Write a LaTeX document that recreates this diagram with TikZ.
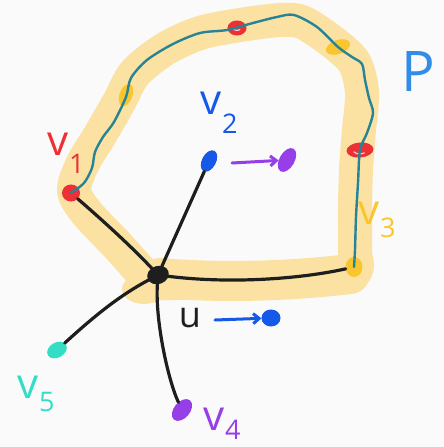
\documentclass[tikz,border=0pt]{standalone}
\usepackage{fontspec}
\setmainfont{Open Sans}
\usetikzlibrary{shapes.geometric,arrows.meta}
\definecolor{bgc}{RGB}{250,250,250}
\definecolor{hl}{RGB}{251,226,162}
\definecolor{pathc}{RGB}{38,132,150}
\definecolor{redc}{RGB}{236,48,52}
\definecolor{yelc}{RGB}{250,198,48}
\definecolor{bluec}{RGB}{22,88,232}
\definecolor{purc}{RGB}{150,62,232}
\definecolor{tealc}{RGB}{52,222,196}
\definecolor{pc}{RGB}{50,140,232}
\definecolor{inkc}{RGB}{30,30,30}
\newcommand{\vlab}[2]{v\kern0.5pt\raisebox{#2}{\fontsize{27}{27}\selectfont #1}}
\tikzset{
  dot/.style={ellipse, inner sep=0pt, fill=#1, draw=#1, line width=1pt},
  edge/.style={draw=inkc, line width=3.2pt, line cap=round},
  lbl/.style={inner sep=0pt, font=\fontsize{42}{42}\selectfont},
  band/.style={draw=hl, line width=34pt, line cap=round, line join=round},
  pth/.style={draw=pathc, line width=2.4pt, line cap=round, line join=round},
  hint/.style={line width=3pt, line cap=round, -{Straight Barb[length=6pt,width=10pt]}}
}
\begin{document}
\begin{tikzpicture}[x=1pt,y=-1pt]
\fill[bgc] (0,0) rectangle (444,447);
\useasboundingbox (0,0) rectangle (444,447);

% highlighted cycle
\draw[band] plot[smooth cycle] coordinates {(150,280) (118,246) (86,212) (74,190) (83,163) (100,135) (119,102) (135,73) (165,49) (200,33) (240,25) (280,20) (302,22) (330,40) (354,62) (362,92) (359,130) (356,170) (355,210) (355,250) (353,273) (300,278) (230,281) (170,283)};
\draw[hl, line width=40pt, line cap=round] (160,278) .. controls (230,284) and (300,280) .. (350,274);
\fill[hl] (144,289) ellipse (22pt and 15pt);

% vertices
\node[dot=redc, minimum width=17pt, minimum height=16pt] (v1) at (71,193) {};
\node[dot=yelc, minimum width=22pt, minimum height=12pt, rotate=70] (y1) at (126,95) {};
\node[dot=redc, minimum width=18pt, minimum height=14pt] (r1) at (237,28) {};
\node[dot=yelc, minimum width=24pt, minimum height=13pt, rotate=20] (y2) at (338,47) {};
\node[dot=redc, minimum width=26pt, minimum height=14pt, rotate=5] (r2) at (360,150) {};
\node[dot=yelc, minimum width=16pt, minimum height=19pt] (v3) at (354,267) {};
\node[dot=inkc, minimum width=21pt, minimum height=17pt, rotate=20] (u) at (158,275) {};
\node[dot=bluec, minimum width=22pt, minimum height=13pt, rotate=62] (v2) at (209,161) {};
\node[dot=purc, minimum width=25pt, minimum height=14pt, rotate=60] (w2) at (287,160) {};
\node[dot=bluec, minimum width=18pt, minimum height=16pt] (wu) at (271,318) {};
\node[dot=tealc, minimum width=20pt, minimum height=14pt, rotate=30] (v5) at (57,350) {};
\node[dot=purc, minimum width=24pt, minimum height=15pt, rotate=50] (v4) at (182,410) {};
% light streaks inside the ring-like red marks
\draw[white!75!redc, line width=1.2pt, line cap=round] (r2.center) ++(-6,2) arc[start angle=200, end angle=320, x radius=6pt, y radius=3pt];
\draw[white!75!redc, line width=1.2pt, line cap=round] (r1.center) ++(-4,1) arc[start angle=200, end angle=320, x radius=4pt, y radius=2pt];

% the path P
\draw[pth] plot[smooth] coordinates {(v1.center) (84,183) (92,168) (95,152) (103,137) (114,122) (126,97) (131,78) (147,60) (173,44) (200,33) (227,30) (253,23) (277,17) (294,15) (317,27) (338,47) (352,57) (362,64) (365,80) (369,98) (373,113) (367,133) (360,150) (358,183) (356,217) (355,250) (v3.center)};

% edges at u
\draw[edge] (u) .. controls (132,247) and (100,218) .. (v1);
\draw[edge] (u) -- (v2);
\draw[edge] (u) .. controls (230,284) and (300,279) .. (v3);
\draw[edge] (u) .. controls (115,298) and (88,322) .. (v5);
\draw[edge] (u) .. controls (155,320) and (168,380) .. (v4);

% small arrows
\coordinate (a2) at (232,163);
\draw[hint, purc] (a2) -- (w2);
\coordinate (au) at (215,320);
\draw[hint, bluec] (au) -- (wu);

% labels
\node[lbl, text=redc]  (l1) at (66,153) {\vlab{1}{-0.42em}};
\node[lbl, text=bluec] (l2) at (219,113) {\vlab{2}{-0.45em}};
\node[lbl, text=yelc]  (l3) at (377,220) {\vlab{3}{-0.3em}};
\node[lbl, text=purc]  (l4) at (222,424) {\vlab{4}{-0.22em}};
\node[lbl, text=tealc] (l5) at (36,394) {\vlab{5}{-0.32em}};
\node[lbl, text=inkc, font=\fontsize{36}{36}\selectfont] (lu) at (190,318) {u};
\node[lbl, text=pc, font=\fontsize{56}{56}\selectfont] (lp) at (418,72) {P};
\end{tikzpicture}
\end{document}
